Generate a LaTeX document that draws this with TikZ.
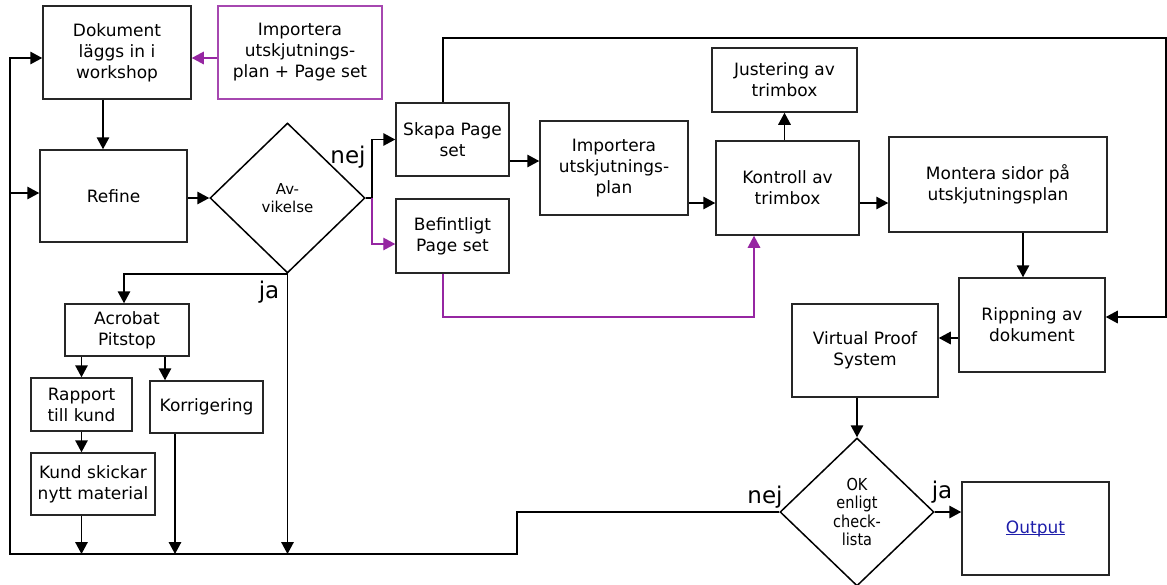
\documentclass[tikz,border=0pt]{standalone}
\usepackage{fontspec}
\setmainfont{DejaVu Sans}
\newfontfamily\narrowfont{DejaVu Sans}[FakeStretch=0.88]
\usetikzlibrary{arrows.meta,shapes.geometric}
\definecolor{flowpurple}{RGB}{150,38,162}
\definecolor{linkblue}{RGB}{30,30,170}
% underlined link-style word, rule just under the baseline
\newcommand\linkword[1]{\setbox0\hbox{#1}\rlap{\rule[-2.4pt]{\wd0}{1.1pt}}\box0}

\begin{document}
\begin{tikzpicture}[x=1pt,y=-1pt,
  line width=1.5pt,
  box/.style={draw=black!85, line width=1.5pt, align=center, inner sep=0pt,
    font=\fontsize{17}{21}\selectfont},
  pbox/.style={box, draw=flowpurple!85, line width=1.3pt},
  decision/.style={diamond, draw, line width=1.5pt, align=center, inner sep=0pt},
  lbl/.style={inner sep=0pt, anchor=base, font=\fontsize{23}{26}\selectfont},
  arr/.style={-{Triangle[length=12pt,width=12.5pt]}, line width=1.5pt},
  parr/.style={-{Triangle[length=12pt,width=12.5pt]}, color=flowpurple, line width=1.3pt}]

\useasboundingbox (0,0) rectangle (1167,584);
\fill[white] (0,0) rectangle (1167,584);

% ---- process boxes ----
\node[box, minimum width=148pt, minimum height=93pt] (dok) at (117,52.5) {Dokument\\läggs in i\\workshop};
\node[pbox, minimum width=164pt, minimum height=93pt] (imp1) at (300,52.5) {Importera\\utskjutnings-\\plan + Page set};
\node[box, minimum width=147pt, minimum height=92pt] (refine) at (113.5,196) {Refine};
\node[decision, minimum width=155pt, minimum height=150pt,
  font=\fontsize{15}{18}\selectfont] (avv) at (287.5,198) {Av-\\vikelse};
\node[box, minimum width=113pt, minimum height=73pt] (skapa) at (452.5,139.5) {Skapa Page\\set};
\node[box, minimum width=113pt, minimum height=74pt] (bef) at (452.5,236) {Befintligt\\Page set};
\node[box, minimum width=148pt, minimum height=94pt] (imp2) at (614,168) {Importera\\utskjutnings-\\plan};
\node[box, minimum width=145pt, minimum height=64pt] (just) at (784.5,80) {Justering av\\trimbox};
\node[box, minimum width=143pt, minimum height=94pt] (kontroll) at (787.5,188) {Kontroll av\\trimbox};
\node[box, minimum width=218pt, minimum height=95pt] (montera) at (998,184.5) {Montera sidor på\\utskjutningsplan};
\node[box, minimum width=146pt, minimum height=94pt] (ripp) at (1032,325) {Rippning av\\dokument};
\node[box, minimum width=146pt, minimum height=93pt] (vps) at (865,350.5) {Virtual Proof\\System};
\node[decision, minimum width=154pt, minimum height=148pt,
  font=\narrowfont\fontsize{16.5}{18.5}\selectfont] (ok) at (857,512) {OK\\enligt\\check-\\lista};
\node[box, minimum width=147pt, minimum height=93pt, text=linkblue] (output) at (1035.5,528.5) {\linkword{Output}};
\node[box, minimum width=124pt, minimum height=52pt] (acrobat) at (127,330) {Acrobat\\Pitstop};
\node[box, minimum width=101pt, minimum height=53pt] (rapport) at (81.5,404.5) {Rapport\\till kund};
\node[box, minimum width=113pt, minimum height=52pt] (korr) at (206.5,407) {Korrigering};
\node[box, minimum width=124pt, minimum height=62pt] (kund) at (93,484) {Kund skickar\\nytt material};

% ---- branch labels ----
\node[lbl] (nej1) at (348,163) {nej};
\node[lbl] (ja1) at (269,298) {ja};
\node[lbl] (nej2) at (765,503) {nej};
\node[lbl] (ja2) at (942,498) {ja};

% ---- routing points ----
\coordinate (fb) at (517,554);
\coordinate (lb) at (10,554);
\coordinate (jn) at (372,198);
\coordinate (dx) at (103,0);
\coordinate (kx) at (175,0);
\coordinate (kin) at (165,0);
\coordinate (px) at (443,38);
\coordinate (tr) at (1166,38);
\coordinate (pb) at (443,317);
\coordinate (kb) at (754,317);
\coordinate (rin) at ([yshift=3pt]refine.west);
\coordinate (dkin) at ([yshift=-5.5pt]dok.west);
\coordinate (dkout) at ([yshift=-5.5pt]dok.east);
\coordinate (sk) at ([yshift=-21.5pt]skapa.east);
\coordinate (kin2) at ([yshift=-15pt]kontroll.west);
\coordinate (kout) at ([yshift=-15pt]kontroll.east);
\coordinate (mo) at ([xshift=25pt]montera.south);
\coordinate (rin2) at ([yshift=8pt]ripp.east);
\coordinate (rout) at ([yshift=-13pt]ripp.west);
\coordinate (bin) at ([yshift=-8pt]bef.west);
\coordinate (acin) at ([xshift=-3pt]acrobat.north);

% ---- main flow ----
\draw[arr] (dok.south -| dx) -- (refine.north -| dx);
\draw[arr] (refine.east |- avv.west) -- (avv.west);
\draw (avv.east) -- (jn);
\draw[arr] (jn) |- (skapa.west);
\draw[parr] (jn) |- (bin);
\draw[arr] (sk) -- (sk -| imp2.west);
\draw[arr] (kin2 -| imp2.east) -- (kin2);
\draw[arr] (kout) -- (kout -| montera.west);
\draw[arr] (just.south |- kontroll.north) -- (just.south);
\draw[arr] (mo) -- (mo |- ripp.north);
\draw[arr] (skapa.north -| px) -- (px) -- (tr) |- (rin2);
\draw[arr] (rout) -- (rout -| vps.east);
\draw[arr] (ok.north |- vps.south) -- (ok.north);
\draw[arr] (ok.east) -- (ok.east -| output.west);

% ---- purple links ----
\draw[parr] (dkout -| imp1.west) -- (dkout);
\draw[parr] (bef.south -| pb) -- (pb) -- (kb) -- (kb |- kontroll.south);

% ---- deviation branch ----
\draw[arr] (avv.south) -| (acin);
\draw[arr] (acrobat.south -| rapport.north) -- (rapport.north);
\draw[arr] (acrobat.south -| kin) -- (korr.north -| kin);
\draw[arr] (rapport.south) -- (rapport.south |- kund.north);

% ---- return loop ----
\draw[arr] (ok.west) -| (fb) -- (lb) |- (dkin);
\draw[arr] (rin -| lb) -- (rin);
\draw[arr] (kund.south -| rapport.south) -- (rapport.south |- lb);
\draw[arr] (korr.south -| kx) -- (kx |- lb);
\draw[arr] (avv.south) -- (avv.south |- lb);
\end{tikzpicture}
\end{document}
